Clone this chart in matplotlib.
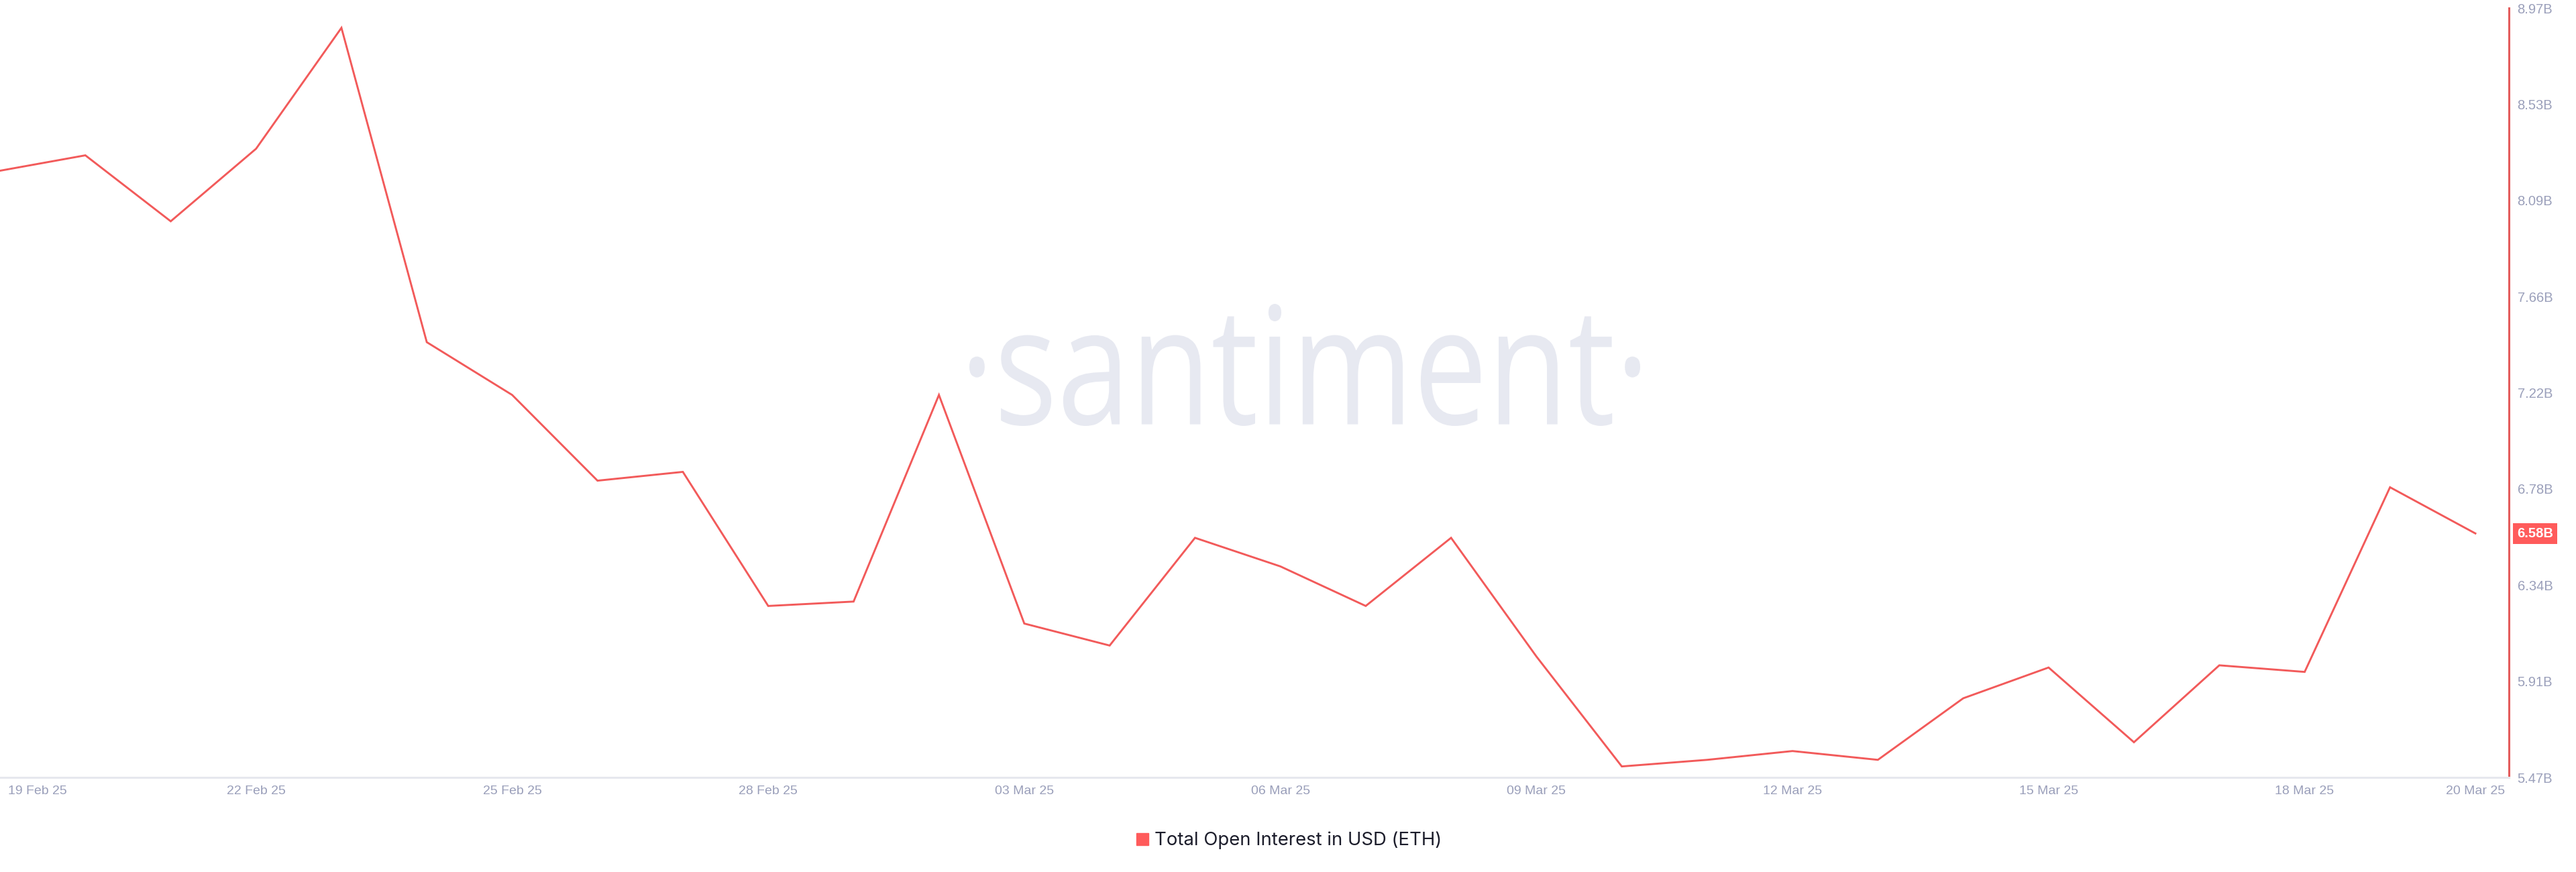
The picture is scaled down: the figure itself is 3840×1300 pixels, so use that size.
import matplotlib
matplotlib.use("Agg")
import matplotlib.pyplot as plt
import matplotlib.transforms as mtransforms
from matplotlib.textpath import TextPath
from matplotlib.patches import PathPatch
from matplotlib.font_manager import FontProperties
from matplotlib.lines import Line2D
import numpy as np

# ---- data ----
dates = ["19 Feb 25", "20 Feb 25", "21 Feb 25", "22 Feb 25", "23 Feb 25", "24 Feb 25",
         "25 Feb 25", "26 Feb 25", "27 Feb 25", "28 Feb 25", "01 Mar 25", "02 Mar 25",
         "03 Mar 25", "04 Mar 25", "05 Mar 25", "06 Mar 25", "07 Mar 25", "08 Mar 25",
         "09 Mar 25", "10 Mar 25", "11 Mar 25", "12 Mar 25", "13 Mar 25", "14 Mar 25",
         "15 Mar 25", "16 Mar 25", "17 Mar 25", "18 Mar 25", "19 Mar 25", "20 Mar 25"]
open_interest_b = [8.23, 8.30, 8.00, 8.33, 8.88, 7.45, 7.21, 6.82, 6.86, 6.25,
                   6.27, 7.21, 6.17, 6.07, 6.56, 6.43, 6.25, 6.56, 6.02, 5.52,
                   5.55, 5.59, 5.55, 5.83, 5.97, 5.63, 5.98, 5.95, 6.79, 6.58]
series_name = "Total Open Interest in USD (ETH)"
x_tick_labels = ["19 Feb 25", "22 Feb 25", "25 Feb 25", "28 Feb 25", "03 Mar 25",
                 "06 Mar 25", "09 Mar 25", "12 Mar 25", "15 Mar 25", "18 Mar 25", "20 Mar 25"]
y_tick_labels = ["5.47B", "5.91B", "6.34B", "6.78B", "7.22B", "7.66B", "8.09B", "8.53B", "8.97B"]
y_min, y_max = 5.47, 8.97

RED = "#f25a5a"
TICK_C = "#9a9fba"

W, H, DPI = 3840, 1300, 100
fig = plt.figure(figsize=(W / DPI, H / DPI), dpi=DPI)
fig.patch.set_facecolor("white")

ax_left, ax_right = 0, 3740
ax_top, ax_bottom = 12, 1159
ax = fig.add_axes([ax_left / W, (H - ax_bottom) / H,
                   (ax_right - ax_left) / W, (ax_bottom - ax_top) / H])
ax.set_facecolor("none")

x = np.arange(len(dates))
ax.plot(x, open_interest_b, color=RED, lw=2.1, zorder=3, solid_joinstyle="miter")

step = 3690 / (len(dates) - 1)
ax.set_xlim(0, ax_right / step)
ax.set_ylim(y_min, y_max)

# ticks
xt = [dates.index(l) for l in x_tick_labels]
ax.set_xticks(xt)
ax.set_xticklabels(x_tick_labels, fontsize=14, color=TICK_C, family="Liberation Sans")
ax.tick_params(axis="x", length=0, pad=9)
first = ax.get_xticklabels()[0]
first.set_ha("left")
first.set_transform(first.get_transform() +
                    mtransforms.ScaledTranslation(12 / DPI, 0, fig.dpi_scale_trans))

ax.yaxis.tick_right()
ax.set_yticks(np.linspace(y_min, y_max, len(y_tick_labels)))
ax.set_yticklabels(y_tick_labels, fontsize=14.5, color=TICK_C, family="Liberation Sans")
ax.tick_params(axis="y", length=0, pad=9)

for s in ["top", "left"]:
    ax.spines[s].set_visible(False)
ax.spines["right"].set_color("#e35c5c")
ax.spines["right"].set_linewidth(2.2)
ax.spines["bottom"].set_color("#e6e8ee")
ax.spines["bottom"].set_linewidth(2.2)

# last value badge
last = open_interest_b[-1]
badge = ax.text(1.0, last, f"{last:.2f}B", fontsize=14.5, color="white",
                family="Liberation Sans", fontweight="bold", ha="left", va="center",
                transform=mtransforms.blended_transform_factory(ax.transAxes, ax.transData)
                + mtransforms.ScaledTranslation(12 / DPI, 0, fig.dpi_scale_trans),
                bbox=dict(boxstyle="square,pad=0.3", fc="#ff5b5b", ec="none"),
                clip_on=False, zorder=5)

# watermark
tp = TextPath((0, 0), "\u00b7santiment\u00b7", size=100, prop=FontProperties(family="Open Sans"))
ext = tp.get_extents()
x0, x1 = 1445, 2445
y0, y1 = H - 635, H - 453
trans = (mtransforms.Affine2D().translate(-ext.x0, -ext.y0)
         .scale((x1 - x0) / ext.width, (y1 - y0) / ext.height).translate(x0, y0))
wm = PathPatch(tp, transform=trans, fc="#e7e9f1", ec="none", zorder=0)
ax.add_patch(wm)
wm.set_transform(trans)

# legend
handle = Line2D([], [], color="#ff5b5b", marker="s", linestyle="none", markersize=13.5)
fig.legend([handle], [series_name], loc="center", bbox_to_anchor=(0.4999, 47 / H),
           frameon=False, prop=FontProperties(family="Inter", size=19.8),
           handletextpad=0.15, labelcolor="#1c1d2b", handlelength=1.0)

fig.savefig("out.png", dpi=DPI, facecolor="white")
